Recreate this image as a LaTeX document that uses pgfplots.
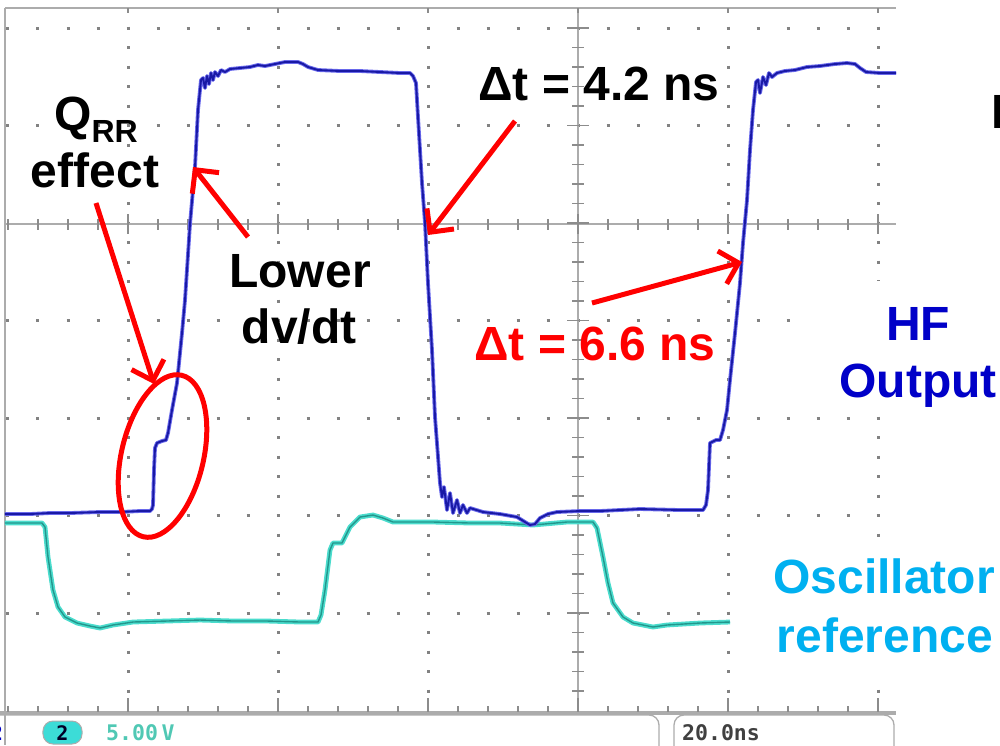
\documentclass[border=0pt]{standalone}
\usepackage{fontspec}
\setmainfont{Liberation Sans}
\newfontfamily\scopefont{DejaVu Sans Mono}
\usepackage{pgfplots}
\usepackage{pgfplotstable}
\pgfplotsset{compat=1.18}
\usetikzlibrary{arrows.meta}
\definecolor{hfblue}{RGB}{0,0,200}
\definecolor{oscblue}{RGB}{0,176,240}
\definecolor{trblue}{RGB}{25,25,165}
\definecolor{trhalo}{RGB}{105,105,235}
\definecolor{trteal}{RGB}{35,150,140}
\definecolor{trtealhalo}{RGB}{75,220,205}
\definecolor{griddot}{RGB}{130,130,130}
\definecolor{gridline}{RGB}{172,172,172}
\definecolor{gridtick}{RGB}{140,140,140}
\definecolor{annred}{RGB}{255,0,0}
\definecolor{badge}{RGB}{60,220,215}
\definecolor{voltcol}{RGB}{80,200,180}

% HF output trace (screen pixels: x to the right, y downward)
\pgfplotstableread{
x y
5 514
30 514
50 513
70 513
100 512
120 512
140 511
150 511
152 509
153 505
154 470
155 448
157 443
162 441
166 440
168 433
172 410
177 383
182 333
185 300
190 224
195 167
198 110
201 80
203 78
205 88
207 76
209 84
211 73
213 80
215 72
218 76
221 70
225 72
230 69
240 68
250 67
258 65
265 66
275 64
285 62
298 62
303 64
308 67
318 70
340 71
360 71
380 72
400 73
410 73
413 76
416 83
418 117
422 183
425 223
428 283
432 350
435 417
440 483
442 497
444 487
447 510
450 493
453 513
457 500
460 513
463 505
467 513
470 508
483 512
500 514
517 517
525 522
530 525
535 524
540 518
548 514
557 512
580 511
600 511
640 509
680 510
703 510
706 505
708 490
710 443
712 442
716 440
720 440
723 430
727 410
730 380
735 333
740 283
743 243
747 200
750 150
753 110
756 82
758 80
760 93
763 77
766 85
769 73
772 77
777 73
785 71
795 70
807 67
820 66
835 64
847 63
855 64
860 68
866 72
880 73
896 73
}\hfdata

% Oscillator reference trace
\pgfplotstableread{
x y
5 523
20 523
42 523
45 527
48 557
53 590
58 607
65 617
77 623
90 626
100 628
113 625
133 622
167 621
200 620
233 621
267 621
300 622
318 622
321 615
325 590
330 550
333 543
342 543
350 527
360 517
373 515
383 518
393 522
433 522
470 523
500 523
533 525
567 522
593 522
597 528
603 557
608 583
613 603
623 617
633 623
653 627
667 625
700 623
730 622
}\oscdata

\begin{document}
\begin{tikzpicture}
\useasboundingbox (0,0) rectangle (1000pt,-745pt);
\clip (0,0) rectangle (1000pt,-745pt);
\begin{axis}[at={(0pt,0pt)}, anchor=north west, x=1pt, y=1pt,
  xmin=0, xmax=1000, ymin=0, ymax=745, y dir=reverse,
  hide axis, clip=false]
% ---- screen frame
\draw[gridline, line width=1.5pt] (axis cs:5,8) -- (axis cs:896,8);
\draw[gridline, line width=1.5pt] (axis cs:5,8) -- (axis cs:5,745);
% ---- dotted grid rows
\draw[griddot, line width=3pt, dash pattern=on 3pt off 27pt] (axis cs:6.5,28) -- (axis cs:881,28);
\draw[griddot, line width=3pt, dash pattern=on 3pt off 27pt] (axis cs:6.5,125.5) -- (axis cs:881,125.5);
\draw[griddot, line width=3pt, dash pattern=on 3pt off 27pt] (axis cs:6.5,320.5) -- (axis cs:881,320.5);
\draw[griddot, line width=3pt, dash pattern=on 3pt off 27pt] (axis cs:6.5,418) -- (axis cs:881,418);
\draw[griddot, line width=3pt, dash pattern=on 3pt off 27pt] (axis cs:6.5,515.5) -- (axis cs:881,515.5);
\draw[griddot, line width=3pt, dash pattern=on 3pt off 27pt] (axis cs:6.5,613) -- (axis cs:881,613);
% ---- dotted grid columns
\draw[griddot, line width=3pt, dash pattern=on 3pt off 16.5pt] (axis cs:128,26.5) -- (axis cs:128,694);
\draw[griddot, line width=3pt, dash pattern=on 3pt off 16.5pt] (axis cs:278,26.5) -- (axis cs:278,694);
\draw[griddot, line width=3pt, dash pattern=on 3pt off 16.5pt] (axis cs:428,26.5) -- (axis cs:428,694);
\draw[griddot, line width=3pt, dash pattern=on 3pt off 16.5pt] (axis cs:728,26.5) -- (axis cs:728,694);
\draw[griddot, line width=3pt, dash pattern=on 3pt off 16.5pt] (axis cs:878,26.5) -- (axis cs:878,694);
% ---- centre lines with ticks
\draw[gridline, line width=2pt] (axis cs:5,224) -- (axis cs:896,224);
\draw[gridline, line width=2pt] (axis cs:578,8) -- (axis cs:578,713);
\draw[gridtick, line width=11pt, dash pattern=on 1.5pt off 28.5pt] (axis cs:7.25,224) -- (axis cs:890,224);
\draw[gridtick, line width=20pt, dash pattern=on 1.5pt off 148.5pt] (axis cs:127.25,224) -- (axis cs:890,224);
\draw[gridtick, line width=12pt, dash pattern=on 1.5pt off 18pt] (axis cs:578,27.25) -- (axis cs:578,700);
\draw[gridtick, line width=22pt, dash pattern=on 1.5pt off 96pt] (axis cs:578,27.25) -- (axis cs:578,700);
% ---- top ticks
\draw[gridtick, line width=5pt, dash pattern=on 1.5pt off 148.5pt] (axis cs:127.25,10) -- (axis cs:890,10);
% ---- bottom axis with ticks
\draw[gridline, line width=3.5pt] (axis cs:0,713) -- (axis cs:896,713);
\draw[gridtick, line width=6pt, dash pattern=on 1.5pt off 28.5pt] (axis cs:7.25,708.5) -- (axis cs:890,708.5);
\draw[gridtick, line width=14pt, dash pattern=on 1.5pt off 148.5pt] (axis cs:127.25,704.5) -- (axis cs:890,704.5);
% ---- status bar
\draw[gridline, line width=1.3pt, rounded corners=10pt] (axis cs:-30,715) rectangle (axis cs:659,775);
\draw[gridline, line width=1.3pt, rounded corners=10pt] (axis cs:674,715) rectangle (axis cs:894,775);
\draw[fill=badge, draw=gridline, line width=1pt, rounded corners=10pt] (axis cs:43,721) rectangle (axis cs:82,744);
\node[anchor=base, inner sep=0pt, text=black!85!blue, font=\scopefont\bfseries\fontsize{20}{20}\selectfont] at (axis cs:62.5,740) {2};
\node[anchor=base, inner sep=0pt, text=hfblue, font=\scopefont\bfseries\fontsize{20}{20}\selectfont] at (axis cs:-3,740) {2};
\node[anchor=base west, inner sep=0pt, text=voltcol, font=\scopefont\bfseries\fontsize{21.5}{22}\selectfont] at (axis cs:106,740) {5.00\,V};
\node[anchor=base west, inner sep=0pt, text=black!75, font=\scopefont\bfseries\fontsize{21.5}{22}\selectfont] at (axis cs:682,740) {20.0ns};
% ---- traces
\addplot[trtealhalo, line width=4.8pt, line join=round] table {\oscdata};
\addplot[trteal, line width=1.4pt, line join=round] table {\oscdata};
\addplot[trhalo, line width=3.8pt, line join=round] table {\hfdata};
\addplot[trblue, line width=1.9pt, line join=round] table {\hfdata};
% ---- label backgrounds on the right
\fill[white] (axis cs:805,281) rectangle (axis cs:1005,411);
\fill[white] (axis cs:731,540) rectangle (axis cs:1005,673);
% ---- annotations
\draw[annred, line width=5pt] (axis cs:162.5,456) ellipse [x radius=83pt, y radius=41pt, rotate=76.6];
\draw[annred, line width=5pt, -{Straight Barb[length=17pt, width=34pt]}] (axis cs:96,203) -- (axis cs:154,384);
\draw[annred, line width=5pt, -{Straight Barb[length=17pt, width=34pt]}] (axis cs:248,237) -- (axis cs:193,167);
\draw[annred, line width=5pt, -{Straight Barb[length=17pt, width=34pt]}] (axis cs:515,121) -- (axis cs:428,235);
\draw[annred, line width=5pt, -{Straight Barb[length=17pt, width=34pt]}] (axis cs:592,303) -- (axis cs:742,262);
\begin{scope}[every node/.style={anchor=base, inner sep=0pt, font=\bfseries\fontsize{48}{57}\selectfont}]
\node at (axis cs:96,130) {Q\raisebox{-12pt}{\fontsize{32}{32}\selectfont RR}};
\node at (axis cs:95,187) {effect};
\node at (axis cs:300,287) {Lower};
\node at (axis cs:299,343) {dv/dt};
\node at (axis cs:599,100) {Δt = 4.2 ns};
\node[text=annred] at (axis cs:595,360) {Δt = 6.6 ns};
\node[text=hfblue] at (axis cs:918,340) {HF};
\node[text=hfblue] at (axis cs:918,397) {Output};
\node[text=oscblue] at (axis cs:884,593) {Oscillator};
\node[text=oscblue] at (axis cs:885,652) {reference};
\node[anchor=base west] at (axis cs:991.5,128) {L};
\end{scope}
\end{axis}
\end{tikzpicture}
\end{document}
